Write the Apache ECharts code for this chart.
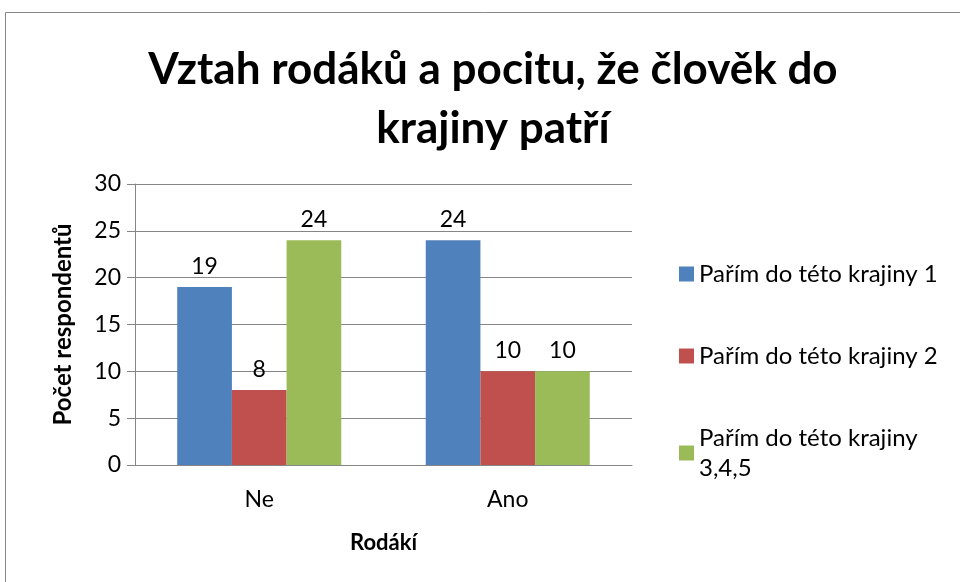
<!DOCTYPE html>
<html>
<head>
<meta charset="utf-8">
<script src="https://cdn.jsdelivr.net/npm/echarts@6/dist/echarts.min.js"></script>
<style>
  html, body { margin: 0; padding: 0; background: #fff; }
  #chart { width: 960px; height: 582px; }
</style>
</head>
<body>
<div id="chart"></div>
<script>
// data
const categories = ['Ne', 'Ano'];
const seriesNames = ['Pařím do této krajiny 1', 'Pařím do této krajiny 2', 'Pařím do této krajiny 3,4,5'];
const valuesS1 = [19, 24];
const valuesS2 = [8, 10];
const valuesS3 = [24, 10];
const colors = ['#4F81BD', '#C0504D', '#9BBB59'];

const FONT = 'Lato';
const chart = echarts.init(document.getElementById('chart'));

const mkSeries = (name, data, i) => ({
  name: name,
  type: 'bar',
  data: data,
  barGap: '0%',
  barCategoryGap: '34%',
  itemStyle: { color: colors[i] },
  label: {
    show: true,
    position: 'top',
    distance: 9,
    color: '#000',
    fontFamily: FONT,
    fontSize: 23
  }
});

chart.setOption({
  animation: false,
  textStyle: { fontFamily: FONT },
  title: {
    text: 'Vztah rodáků a pocitu, že člověk do\nkrajiny patří',
    left: 488,
    top: 35,
    textAlign: 'center',
    textStyle: { fontFamily: FONT, fontSize: 44, fontWeight: 'bold', color: '#000', lineHeight: 59 }
  },
  legend: {
    orient: 'vertical',
    left: 674,
    top: 254,
    itemWidth: 15,
    itemHeight: 15,
    itemGap: 52,
    icon: 'rect',
    data: seriesNames,
    formatter: name => name.replace(' 3,4,5', '\n3,4,5'),
    textStyle: { fontFamily: FONT, fontSize: 24, color: '#000', lineHeight: 30 }
  },
  grid: { left: 135, right: 328, top: 184, bottom: 117 },
  xAxis: {
    type: 'category',
    data: categories,
    name: 'Rodákí',
    nameLocation: 'middle',
    nameGap: 67,
    nameTextStyle: { fontFamily: FONT, fontSize: 22, fontWeight: 'bold', color: '#000' },
    axisLine: { lineStyle: { color: '#868686' } },
    axisTick: { show: false },
    axisLabel: { fontFamily: FONT, fontSize: 23, color: '#000', margin: 23 }
  },
  yAxis: {
    type: 'value',
    min: 0,
    max: 30,
    interval: 5,
    name: 'Počet respondentů',
    nameLocation: 'middle',
    nameGap: 60,
    nameTextStyle: { fontFamily: FONT, fontSize: 24, fontWeight: 'bold', color: '#000' },
    axisLine: { show: true, lineStyle: { color: '#868686' } },
    axisTick: { show: true, length: 8, lineStyle: { color: '#868686' } },
    axisLabel: { fontFamily: FONT, fontSize: 23, color: '#000', margin: 14 },
    splitLine: { lineStyle: { color: '#868686' } }
  },
  graphic: [{
    type: 'rect',
    shape: { x: 5.5, y: 12.5, width: 1000, height: 700 },
    style: { fill: null, stroke: '#888', lineWidth: 1 },
    silent: true,
    z: -1
  }],
  series: [
    mkSeries(seriesNames[0], valuesS1, 0),
    mkSeries(seriesNames[1], valuesS2, 1),
    mkSeries(seriesNames[2], valuesS3, 2)
  ]
});
</script>
</body>
</html>
